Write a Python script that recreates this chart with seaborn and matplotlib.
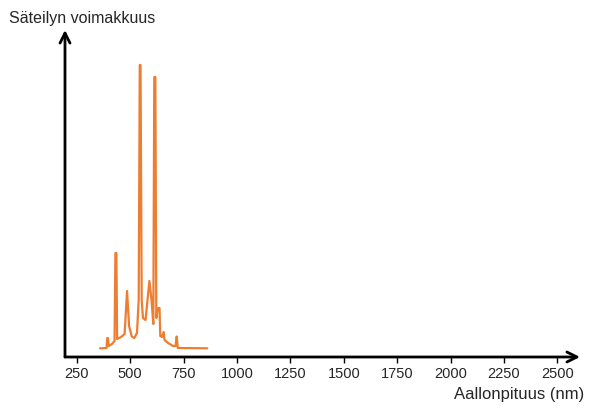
import matplotlib
matplotlib.use("Agg")
import matplotlib.pyplot as plt
import seaborn as sns
import pandas as pd

# Spectrum: wavelength (nm) and relative intensity
wavelength = [359, 389.5, 393, 396.5, 400, 415, 427, 431, 435.5, 439, 457.5, 474,
              485.5, 495, 507.5, 519.5, 532, 540, 545, 548.5, 554, 560, 572, 579,
              590, 600, 608.5, 613, 618, 622.5, 628, 633, 637.5, 641, 649, 657,
              661, 677.5, 701, 712.5, 718, 723, 861]
intensity = [8.7, 9, 19, 18.7, 11, 13, 16, 104, 104, 18, 20, 23,
             66, 31, 20.5, 19, 24, 57, 292, 292, 57, 39, 37, 52,
             76, 57, 33, 280, 280, 39, 47, 49, 49, 21, 20, 25,
             17, 14, 11, 11, 20.5, 9, 8.7]
x_ticks = [250, 500, 750, 1000, 1250, 1500, 1750, 2000, 2250, 2500]
x_label = "Aallonpituus (nm)"
y_label = "Säteilyn voimakkuus"

sns.set_style("white")
plt.rcParams['font.family'] = ['Liberation Sans', 'DejaVu Sans']

df = pd.DataFrame({"wl": wavelength, "I": intensity})

fig = plt.figure(figsize=(5.93, 4.11), dpi=100)
ax = fig.add_axes([65/593, 1 - 357/411, (580-65)/593, (357-30)/411])

sns.lineplot(data=df, x="wl", y="I", ax=ax, color="#ED7D31", linewidth=1.6,
             sort=False, estimator=None)

ax.set_xlim(195, 2606)
ax.set_ylim(0, 327)
for s in ax.spines.values():
    s.set_visible(False)

ax.set_xticks(x_ticks)
ax.set_xticklabels([str(t) for t in x_ticks], fontsize=10.5)
ax.tick_params(axis='x', direction='out', length=4, width=1, color='black', pad=3.5, bottom=True)
ax.set_yticks([])
ax.set_xlabel("")
ax.set_ylabel("")

# axis arrows
ax.annotate('', xy=(1, 0), xytext=(0, 0), xycoords='axes fraction',
            arrowprops=dict(arrowstyle='->', lw=2, color='black',
                            mutation_scale=18, shrinkA=0, shrinkB=0))
ax.annotate('', xy=(0, 1), xytext=(0, 0), xycoords='axes fraction',
            arrowprops=dict(arrowstyle='->', lw=2, color='black',
                            mutation_scale=18, shrinkA=0, shrinkB=0))

fig.text(9/593, 1 - 19/411, y_label, fontsize=11.5, ha='left', va='center')
fig.text(584/593, 1 - 394/411, x_label, fontsize=12, ha='right', va='center')

fig.savefig("out.png", dpi=100)
